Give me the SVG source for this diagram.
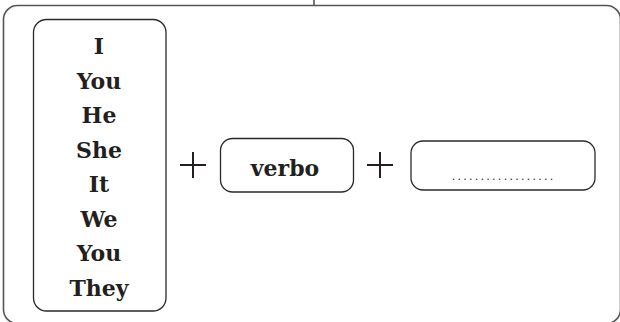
<svg xmlns="http://www.w3.org/2000/svg" width="620" height="322" viewBox="0 0 620 322">
<style>
.frame{fill:none;stroke:#555;stroke-width:1.6}
.box{fill:#fff;stroke:#2a2a2a;stroke-width:1.3}
.t{font-family:"DejaVu Serif","Liberation Serif",serif;font-weight:bold;font-size:22px;fill:#231f20;text-anchor:middle}
.plus{stroke:#231f20;stroke-width:2;fill:none}
.dots{font-family:"Liberation Serif",serif;font-size:12px;fill:#231f20}
</style>
<rect width="620" height="322" fill="#fff"/>
<g id="frame">
<line x1="314" y1="0" x2="314" y2="6" class="frame"/>
<rect x="3.5" y="5.5" width="617" height="318" rx="14" class="frame"/>
</g>
<g id="pronouns">
<rect x="33.5" y="19.5" width="132.5" height="291.5" rx="13" class="box"/>
<text class="t" x="99" y="54">I</text>
<text class="t" x="99" y="88.5">You</text>
<text class="t" x="99" y="123">He</text>
<text class="t" x="99" y="157.5">She</text>
<text class="t" x="99" y="192">It</text>
<text class="t" x="99" y="226.5">We</text>
<text class="t" x="99" y="261">You</text>
<text class="t" x="99" y="295.5">They</text>
</g>
<g id="connectors">
<path class="plus" d="M180 165H206M193 152V178"/>
<path class="plus" d="M367 165H393M380 152V178"/>
</g>
<g id="verbo">
<rect x="220.5" y="138.5" width="133" height="53.5" rx="12" class="box"/>
<text class="t" x="285" y="176">verbo</text>
</g>
<g id="blank">
<rect x="411" y="141" width="184" height="49" rx="12" class="box"/>
<text class="dots" x="452" y="180" textLength="101" lengthAdjust="spacing">..................</text>
</g>
</svg>
